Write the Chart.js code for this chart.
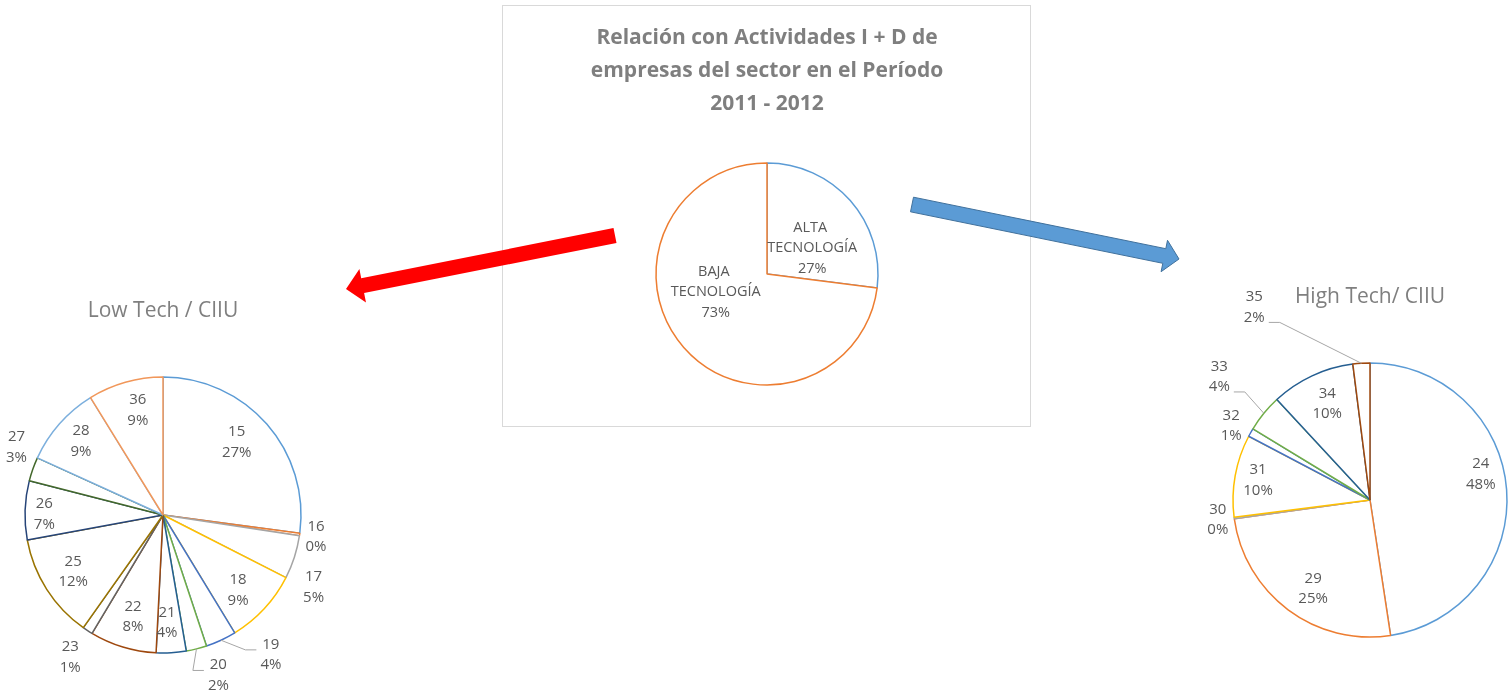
<!DOCTYPE html>
<html lang="es">
<head>
<meta charset="utf-8">
<title>Relación con Actividades I+D</title>
<script src="https://cdn.jsdelivr.net/npm/chart.js@4.4.1/dist/chart.umd.min.js"></script>
<style>
    body { margin: 0; width: 1511px; height: 695px; overflow: hidden; position: relative; background: #fff; }
    .box { position: absolute; left: 502px; top: 5px; width: 527px; height: 420px; border: 1px solid #d9d9d9; }
    .wrap { position: absolute; }
    #arrows { position: absolute; left: 0; top: 0; z-index: 5; }
</style>
</head>
<body>
<div class="box"></div>
<div class="wrap" id="wrapTech"><canvas id="chartTech"></canvas></div>
<div class="wrap" id="wrapLow"><canvas id="chartLow"></canvas></div>
<div class="wrap" id="wrapHigh"><canvas id="chartHigh"></canvas></div>
<svg id="arrows" width="1511" height="695"></svg>

<script>
// ---------------------------------------------------------
// Datos: participación por nivel tecnológico y por CIIU
// ---------------------------------------------------------
const techGroups = [['ALTA ', 'TECNOLOGÍA'], ['BAJA ', 'TECNOLOGÍA']];
const techShare = [27, 73];

const lowCodes = ['15', '16', '17', '18', '19', '20', '21', '22', '23', '25', '26', '27', '28', '36'];
const lowShare = [27.1, 0.3, 5.1, 8.8, 3.6, 2.4, 3.5, 7.8, 1.2, 12.3, 6.9, 2.8, 9.4, 8.8];

const highCodes = ['24', '29', '30', '31', '32', '33', '34', '35'];
const highShare = [47.6, 25.2, 0.2, 9.7, 1.0, 4.4, 9.9, 2.0];

// paleta por defecto de Office
const officePalette = ['#5b9bd5', '#ed7d31', '#a5a5a5', '#ffc000', '#4472c4', '#70ad47',
    '#255e91', '#9e480e', '#636363', '#997300', '#264478', '#43682b', '#7cafdd', '#f1975a'];
const highPalette = ['#5b9bd5', '#ed7d31', '#a5a5a5', '#ffc000', '#4472c4', '#70ad47', '#255e91', '#9e480e'];

// ubicación de etiquetas: [radio relativo, giro en grados, línea guía]
const techLabelPlace = [[0.47, 11.4], [0.49, 22]];
const lowLabelPlace = [[0.75, -3.4], [1.12, 0], [1.21, 7.8], [0.77, 2.2], [1.28, -12.8, 1], [1.23, -5, 1],
    [0.78, 1.3], [0.77, -0.5], [1.23, 0], [0.77, 0.3], [0.86, -1.5], [1.17, 5.4], [0.80, 0.6], [0.78, 2.3]];
const highLabelPlace = [[0.83, -8.7], [0.77, -4.1], [1.12, 0.2], [0.83, -0.3], [1.15, -1.3], [1.42, 0, 1],
    [0.77, 1.1], [1.64, -27.4, 1]];

// ---------------------------------------------------------
// Plugin: etiqueta "categoría / porcentaje" en cada porción
// ---------------------------------------------------------
const sliceLabels = {
    id: 'sliceLabels',
    afterDatasetsDraw(chart, args, opts) {
        const ctx = chart.ctx;
        const meta = chart.getDatasetMeta(0);
        const data = chart.data.datasets[0].data;
        const total = data.reduce((a, b) => a + b, 0);
        ctx.save();
        ctx.font = opts.font;
        ctx.fillStyle = opts.color;
        ctx.strokeStyle = '#a6a6a6';
        ctx.lineWidth = 1;
        ctx.textAlign = 'center';
        ctx.textBaseline = 'middle';
        meta.data.forEach((arc, i) => {
            const p = arc.getProps(['x', 'y', 'startAngle', 'endAngle', 'outerRadius'], true);
            const [rf, da, leader] = opts.place[i];
            const mid = (p.startAngle + p.endAngle) / 2;
            const a = mid + da * Math.PI / 180;
            const lx = p.x + Math.cos(a) * p.outerRadius * rf;
            const ly = p.y + Math.sin(a) * p.outerRadius * rf;
            const lines = [].concat(chart.data.labels[i], Math.round(data[i] / total * 100) + '%');
            const y0 = ly - (lines.length - 1) * opts.lineHeight / 2;
            lines.forEach((t, k) => ctx.fillText(t, lx, y0 + k * opts.lineHeight));
            if (leader) {
                const ax = p.x + Math.cos(mid) * p.outerRadius;
                const ay = p.y + Math.sin(mid) * p.outerRadius;
                const w = Math.max(...lines.map(t => ctx.measureText(t).width));
                const side = lx > ax ? -1 : 1;
                const ex = lx + side * (w / 2 + 4);
                const ey = ly + (ay > ly ? 15 : -5);
                ctx.beginPath();
                ctx.moveTo(ax, ay);
                ctx.lineTo(ex + side * 11, ey);
                ctx.lineTo(ex, ey);
                ctx.stroke();
            }
        });
        ctx.restore();
    }
};

// ---------------------------------------------------------
// Generador de gráficos de torta (solo contorno)
// ---------------------------------------------------------
function createOutlinePie(canvasId, wrapId, g, labels, values, colors, place) {
    const wrap = document.getElementById(wrapId);
    Object.assign(wrap.style, { left: g.left + 'px', top: g.top + 'px', width: g.width + 'px', height: g.height + 'px' });

    const bw = 1.5;
    const half = g.r + bw / 2;
    // área horizontal simétrica respecto al centro; el alto fija el radio
    const ext = Math.min(g.cx - g.left, g.left + g.width - g.cx);
    const padTop = g.titleY - g.top - g.lineH / 2;
    const areaTop = g.cy - half - g.top;

    new Chart(document.getElementById(canvasId), {
        type: 'pie',
        data: {
            labels: labels,
            datasets: [{ data: values, backgroundColor: '#ffffff', borderColor: colors, borderWidth: bw }]
        },
        options: {
            responsive: true, maintainAspectRatio: false, animation: false, events: [],
            layout: {
                padding: {
                    left: g.cx - ext - g.left,
                    right: g.left + g.width - (g.cx + ext),
                    top: 0,
                    bottom: g.top + g.height - (g.cy + half)
                }
            },
            plugins: {
                legend: { display: false },
                tooltip: { enabled: false },
                title: {
                    display: true, text: g.title, color: '#7f7f7f',
                    font: { family: 'Open Sans', size: g.titleSize, weight: g.titleWeight, lineHeight: g.lineH / g.titleSize },
                    padding: { top: padTop, bottom: areaTop - padTop - g.title.length * g.lineH }
                },
                sliceLabels: { place: place, font: g.labelFont, color: '#595959', lineHeight: g.labelLH }
            }
        },
        plugins: [sliceLabels]
    });
}

// ---------------------------------------------------------
// Flechas decorativas
// ---------------------------------------------------------
function arrowPoints(tail, tip, shaftW, headW, headL) {
    const dx = tip[0] - tail[0], dy = tip[1] - tail[1], L = Math.hypot(dx, dy);
    const ux = dx / L, uy = dy / L, nx = -uy, ny = ux;
    const bx = tip[0] - ux * headL, by = tip[1] - uy * headL;
    const off = (x, y, s) => [x + nx * s, y + ny * s];
    return [off(tail[0], tail[1], shaftW / 2), off(bx, by, shaftW / 2), off(bx, by, headW / 2), tip,
        off(bx, by, -headW / 2), off(bx, by, -shaftW / 2), off(tail[0], tail[1], -shaftW / 2)]
        .map(p => p[0].toFixed(1) + ',' + p[1].toFixed(1)).join(' ');
}

function drawArrows() {
    const svg = document.getElementById('arrows');
    svg.innerHTML =
        '<polygon points="' + arrowPoints([615, 235.5], [346, 289], 15, 34, 17) + '" fill="#ff0000"/>' +
        '<polygon points="' + arrowPoints([912, 204.5], [1179, 259], 15, 32, 15) + '" fill="#5b9bd5" stroke="#41719c" stroke-width="1"/>';
}

document.addEventListener('DOMContentLoaded', () => {
    createOutlinePie('chartTech', 'wrapTech', {
        left: 503, top: 6, width: 527, height: 420, cx: 767, cy: 274, r: 111,
        title: ['Relación con Actividades I + D de', 'empresas del sector en el Período', '2011 - 2012'],
        titleY: 38, lineH: 33, titleSize: 21, titleWeight: 'bold',
        labelFont: '14.5px "Open Sans"', labelLH: 20.5
    }, techGroups, techShare, ['#5b9bd5', '#ed7d31'], techLabelPlace);

    createOutlinePie('chartLow', 'wrapLow', {
        left: 0, top: 270, width: 335, height: 425, cx: 163, cy: 515, r: 138,
        title: ['Low Tech / CIIU'], titleY: 311, lineH: 26, titleSize: 21, titleWeight: 'normal',
        labelFont: '15px "Open Sans"', labelLH: 20.5
    }, lowCodes, lowShare, officePalette, lowLabelPlace);

    createOutlinePie('chartHigh', 'wrapHigh', {
        left: 1190, top: 262, width: 321, height: 433, cx: 1370, cy: 500, r: 137,
        title: ['High Tech/ CIIU'], titleY: 297, lineH: 26, titleSize: 21, titleWeight: 'normal',
        labelFont: '15px "Open Sans"', labelLH: 20.5
    }, highCodes, highShare, highPalette, highLabelPlace);

    drawArrows();
});
</script>
</body>
</html>
